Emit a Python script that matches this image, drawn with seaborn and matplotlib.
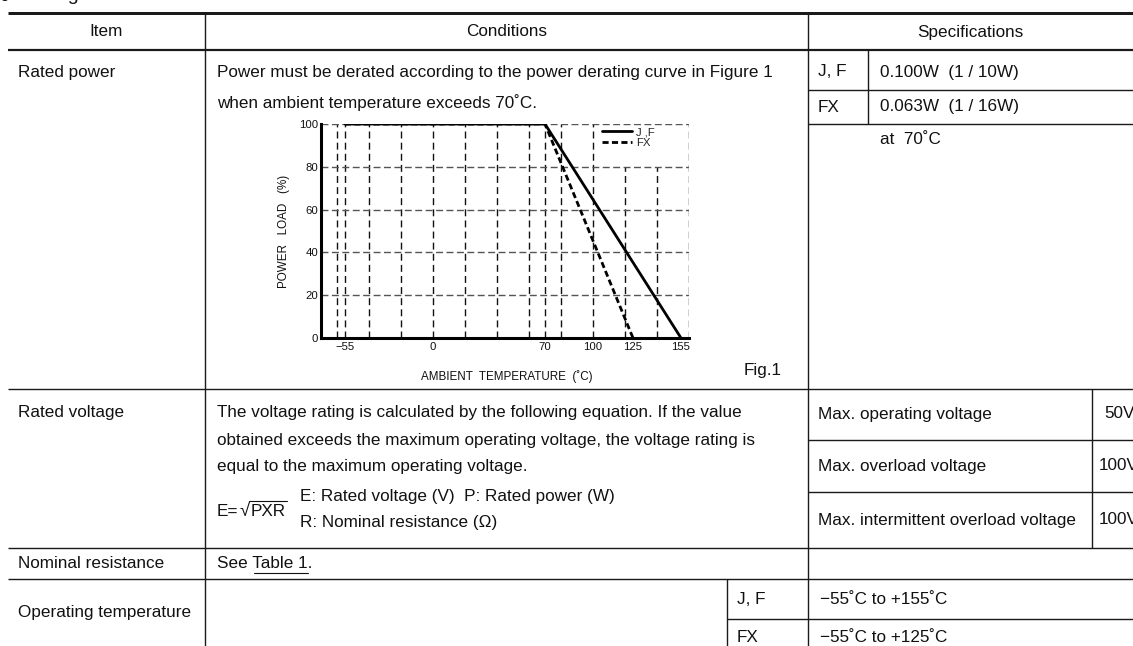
import numpy as np
import pandas as pd
import matplotlib
matplotlib.use("Agg")
import matplotlib.pyplot as plt
import seaborn as sns
from matplotlib.lines import Line2D

# ---------------- data ----------------
series_names = ["J,F", "FX"]
jf_temp = [-55, 70, 155]
jf_load = [100, 100, 0]
fx_temp = [-55, 70, 125]
fx_load = [100, 100, 0]
x_tick_values = [-55, 0, 70, 100, 125, 155]
x_tick_labels = ["\u221255", "0", "70", "100", "125", "155"]
y_tick_values = [0, 20, 40, 60, 80, 100]
grid_x_values = [-60, -55, -40, -20, 0, 20, 40, 60, 70, 80, 100, 120, 140, 160]
grid_y_values = [20, 40, 60, 80, 100]

header_labels = ["Item", "Conditions", "Specifications"]
item_labels = ["Rated power", "Rated voltage", "Nominal resistance", "Operating temperature"]
power_text = ["Power must be derated according to the power derating curve in Figure 1",
              "when ambient temperature exceeds 70\u02daC."]
power_specs = [("J, F", "0.100W  (1 / 10W)"), ("FX", "0.063W  (1 / 16W)")]
power_note = "at  70\u02daC"
voltage_text = ["The voltage rating is calculated by the following equation. If the value",
                "obtained exceeds the maximum operating voltage, the voltage rating is",
                "equal to the maximum operating voltage."]
formula_lhs = "E="
formula_root = "PXR"
voltage_defs = ["E: Rated voltage (V)  P: Rated power (W)", "R: Nominal resistance (\u03a9)"]
voltage_specs = [("Max. operating voltage", "50V"), ("Max. overload voltage", "100V"),
                 ("Max. intermittent overload voltage", "100V")]
temp_specs = [("J, F", "\u221255\u02daC to +155\u02daC"), ("FX", "\u221255\u02daC to +125\u02daC")]

# ---------------- style ----------------
sns.set_theme(style="white")
plt.rcParams["font.family"] = ["Liberation Sans", "DejaVu Sans"]

W, H = 1133, 646
fig = plt.figure(figsize=(W / 100, H / 100), dpi=100)
bg = fig.add_axes([0, 0, 1, 1])
bg.set_xlim(0, W)
bg.set_ylim(H, 0)
bg.axis("off")

FS = 12.3
PX = 0.72  # one pixel in points
LC = "#1a1a1a"
TC = "#111111"

def hline(y, x0, x1, lw=1.4):
    bg.plot([x0, x1], [y, y], color=LC, lw=lw * PX, solid_capstyle="butt")

def vline(x, y0, y1, lw=1.4):
    bg.plot([x, x], [y0, y1], color=LC, lw=lw * PX, solid_capstyle="butt")

def txt(x, y, s, ha="left", fs=FS, **kw):
    return bg.text(x, y, s, ha=ha, va="center", fontsize=fs, color=TC, **kw)

# title (cut off at the top edge, as in the source)
bg.text(4, -2.5, "\u25cf", fontsize=14, va="center", ha="center", color=TC)
bg.text(22, 0.5, "Ratings", fontsize=14, va="baseline", ha="left", color=TC)

# main rules
hline(13, 8, W, lw=3)
hline(50, 8, W, lw=2.2)
vline(205, 13, H)
vline(808, 13, H)

# header
txt(106, 32, header_labels[0], ha="center")
txt(507, 32, header_labels[1], ha="center")
txt(970, 32, header_labels[2], ha="center")

# row boundaries
rp_end, rv_end, nr_end = 389, 548, 579
for y in [rp_end, rv_end, nr_end]:
    hline(y, 8, W)

# rated power
txt(18, 73, item_labels[0])
txt(217, 73, power_text[0])
txt(217, 103, power_text[1])
vline(868, 50, 124)
hline(90, 808, W)
hline(124, 808, W)
for (lab, val), y in zip(power_specs, [72, 107]):
    txt(818, y, lab)
    txt(880, y, val)
txt(880, 140, power_note)
txt(744, 371, "Fig.1")

# rated voltage
txt(18, 413, item_labels[1])
for s, y in zip(voltage_text, [413, 440, 466]):
    txt(217, y, s)

fig.canvas.draw()
r = fig.canvas.get_renderer()
inv = bg.transData.inverted()

def right_x(t):
    return inv.transform((t.get_window_extent(r).x1, 0))[0]

fy = 511
t_lhs = txt(217, fy, formula_lhs)
xr = right_x(t_lhs) + 1
t_rad = txt(xr, fy + 1, "\u221a", fs=FS + 1)
xroot = right_x(t_rad)
t_root = txt(xroot + 1, fy, formula_root)
xend = right_x(t_root)
bg.plot([xroot - 1, xend + 1], [fy - 10, fy - 10], color=TC, lw=1.1 * PX)

txt(300, 497, voltage_defs[0])
txt(300, 523, voltage_defs[1])
vline(1092, rp_end, rv_end)
hline(440, 808, W)
hline(492, 808, W)
for (lab, val), y in zip(voltage_specs, [414, 466, 520]):
    txt(818, y, lab)
    txt(1104 if val == "50V" else 1099, y, val)

# nominal resistance
txt(18, 563, item_labels[2])
txt(217, 563, "See Table 1.")
tmp = bg.text(217, 563, "See ", fontsize=FS, va="center")
tmp2 = bg.text(217, 563, "See Table 1", fontsize=FS, va="center")
xa = right_x(tmp)
xb = right_x(tmp2)
tmp.remove(); tmp2.remove()
bg.plot([xa + 1, xb], [573, 573], color=TC, lw=1.1 * PX)

# operating temperature
txt(18, 613, item_labels[3])
vline(727, nr_end, H)
hline(619, 727, W)
for (lab, val), y in zip(temp_specs, [600, 637]):
    txt(737, y, lab)
    txt(820, y, val)

# ---------------- chart ----------------
x0p, x1p, y0p, y1p = 321, 689, 124, 338
ax = fig.add_axes([x0p / W, 1 - y1p / H, (x1p - x0p) / W, (y1p - y0p) / H])
ax.set_xlim(-70, 160)
ax.set_ylim(0, 100)
ax.set_facecolor("none")

for gx in grid_x_values:
    top = 0.8 if gx in (120, 140) else 1.0
    ax.axvline(gx, ymin=0, ymax=top, color="#111111", lw=1.0, dashes=(5, 3), zorder=1)
for gy in grid_y_values:
    ax.axhline(gy, color="#555555", lw=1.0, dashes=(5, 2.5), zorder=1)

df = pd.DataFrame({
    "temp": jf_temp + fx_temp,
    "load": jf_load + fx_load,
    "series": [series_names[0]] * len(jf_temp) + [series_names[1]] * len(fx_temp),
})
sns.lineplot(data=df, x="temp", y="load", hue="series", style="series",
             palette=["black", "black"], dashes={"J,F": "", "FX": (2.2, 1.2)},
             sort=False, estimator=None, legend=False, lw=2.0, ax=ax, zorder=3)

for side in ["top", "right"]:
    ax.spines[side].set_visible(False)
for side in ["left", "bottom"]:
    ax.spines[side].set_visible(True)
    ax.spines[side].set_color("black")
    ax.spines[side].set_linewidth(2.2)
    ax.spines[side].set_zorder(4)

ax.set_xticks(x_tick_values)
ax.set_xticklabels(x_tick_labels)
ax.set_yticks(y_tick_values)
ax.tick_params(axis="both", length=0, labelsize=8.2, colors=TC)
ax.tick_params(axis="x", pad=3)
ax.tick_params(axis="y", pad=2)
ax.set_xlabel("AMBIENT  TEMPERATURE  (\u02daC)", fontsize=8.4, color=TC)
ax.set_ylabel("POWER   LOAD   (%)", fontsize=8.4, color=TC)
ax.xaxis.set_label_coords((507 - x0p) / (x1p - x0p), (y1p - 370) / (y1p - y0p))
ax.yaxis.set_label_coords((290 - x0p) / (x1p - x0p), 0.5)
ax.grid(False)

handles = [Line2D([0], [0], color="black", lw=2.0),
           Line2D([0], [0], color="black", lw=2.0, dashes=(2.2, 1.2))]
leg = ax.legend(handles, ["J ,F", "FX"], loc="upper left",
                bbox_to_anchor=(104, 99.5), bbox_transform=ax.transData,
                frameon=False, fontsize=8.2, handlelength=2.7, handletextpad=0.3,
                labelspacing=0.05, borderpad=0.2, borderaxespad=0)

fig.savefig("out.png", dpi=100)
